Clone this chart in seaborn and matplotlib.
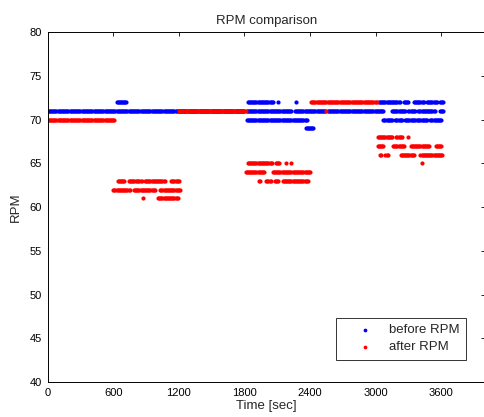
import numpy as np
import pandas as pd
import matplotlib
matplotlib.use("Agg")
import matplotlib.pyplot as plt
import seaborn as sns

# ---- data (runs of samples: (start_sec, end_sec)) ----
STEP = 10  # logging interval of the samples, seconds

before_72 = [(630, 720), (1830, 2060), (2110, 2110), (2270, 2270),
             (3030, 3220), (3260, 3300), (3350, 3440), (3470, 3560), (3590, 3620)]
before_71 = [(0, 1800), (1820, 2230), (2260, 2540), (2560, 3070),
             (3150, 3270), (3300, 3360), (3390, 3540), (3585, 3620)]
before_70 = [(1820, 2370), (3070, 3150), (3180, 3240), (3270, 3360),
             (3380, 3470), (3500, 3600)]
before_69 = [(2360, 2430)]

after_72 = [(2410, 3010)]
after_71 = [(1200, 1810), (2550, 2550)]
after_70 = [(0, 610)]
after_68 = [(3020, 3150), (3190, 3240), (3300, 3300)]
after_67 = [(3020, 3070), (3160, 3260), (3320, 3490), (3550, 3600)]
after_66 = [(3040, 3050), (3090, 3110), (3230, 3350), (3410, 3610)]
after_65 = [(1830, 2050), (2090, 2120), (2180, 2180), (2230, 2230), (3420, 3420)]
after_64 = [(1810, 1980), (2060, 2400)]
after_63 = [(640, 700), (740, 790), (810, 860), (890, 950), (960, 1070), (1130, 1200),
            (1930, 1940), (2000, 2040), (2080, 2110), (2150, 2380)]
after_62 = [(600, 750), (790, 980), (1030, 1210)]
after_61 = [(870, 870), (1010, 1190)]

before_rows = {72: before_72, 71: before_71, 70: before_70, 69: before_69}
after_rows = {72: after_72, 71: after_71, 70: after_70, 68: after_68, 67: after_67,
              66: after_66, 65: after_65, 64: after_64, 63: after_63, 62: after_62,
              61: after_61}

x_ticks = [0, 600, 1200, 1800, 2400, 3000, 3600]
y_ticks = [40, 45, 50, 55, 60, 65, 70, 75, 80]


def build(rows):
    t, r = [], []
    for rpm, segs in rows.items():
        for a, b in segs:
            ts = np.arange(a, b + 1, STEP)
            t.extend(ts.tolist())
            r.extend([rpm] * len(ts))
    return pd.DataFrame({"time": t, "rpm": r})


df_before = build(before_rows)
df_after = build(after_rows)

sns.set_style("white")
plt.rcParams["font.family"] = ["Liberation Sans", "DejaVu Sans"]

fig = plt.figure(figsize=(4.85, 4.17), dpi=100)
ax = fig.add_axes([0.0983, 0.084, 0.9015, 0.8385])

sns.scatterplot(data=df_before, x="time", y="rpm", color=(0, 0, 1), s=9,
                linewidth=0, marker="o", label="before RPM", ax=ax)
sns.scatterplot(data=df_after, x="time", y="rpm", color=(1, 0, 0), s=9,
                linewidth=0, marker="o", label="after RPM", ax=ax)

ax.set_xlim(0, 4000)
ax.set_ylim(40, 80)
ax.set_xticks(x_ticks)
ax.set_yticks(y_ticks)
ax.tick_params(direction="in", top=True, right=True, length=3, width=0.6,
               labelsize=8, colors="black", pad=4)
for sp in ax.spines.values():
    sp.set_visible(True)
    sp.set_color("black")
    sp.set_linewidth(0.7)

ax.set_title("RPM comparison", fontsize=9.5, pad=6)
ax.set_xlabel("Time [sec]", fontsize=9.5, labelpad=2)
ax.set_ylabel("RPM", fontsize=9.5, labelpad=6)

leg = ax.legend(loc="lower right", bbox_to_anchor=(0.957, 0.063), borderaxespad=0,
                fontsize=9.5, frameon=True, fancybox=False, markerscale=0.9,
                handletextpad=0.1, borderpad=0.5, labelspacing=0.35,
                handlelength=3.4)
leg.get_frame().set_edgecolor("black")
leg.get_frame().set_linewidth(0.7)

fig.savefig("out.png", dpi=100)
